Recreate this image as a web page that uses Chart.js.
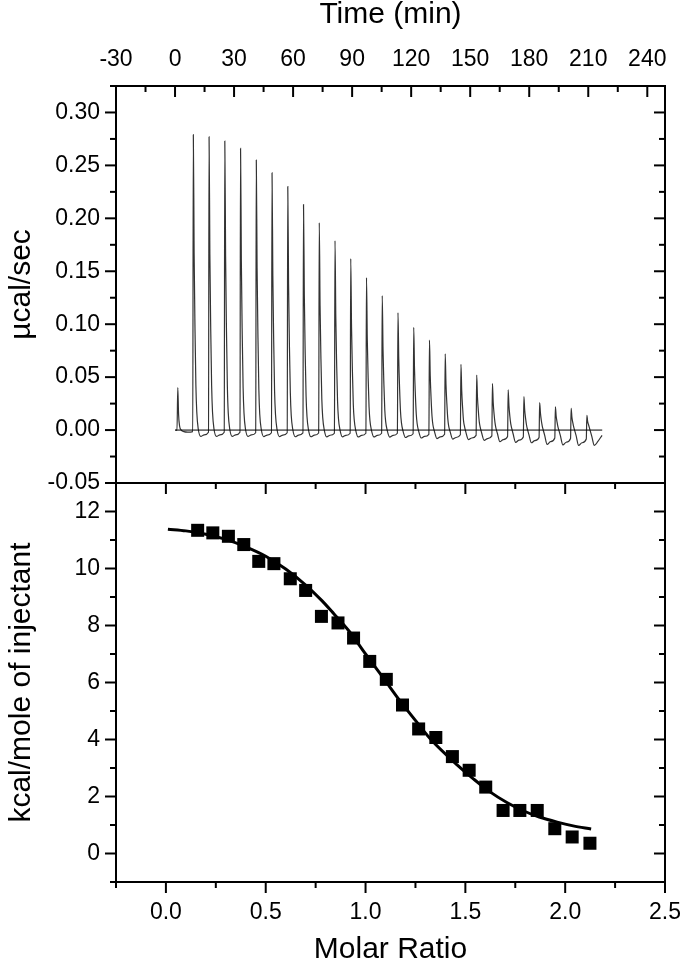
<!DOCTYPE html>
<html lang="en">
<head>
<meta charset="UTF-8">
<title>ITC titration</title>
<script src="https://cdn.jsdelivr.net/npm/chart.js"></script>
<style>
  body { margin: 0; background: #fff; }
  canvas { display: block; }
</style>
</head>
<body>
<canvas id="itc" width="680" height="966"></canvas>
<script>
// ---- top panel: raw heat flow (µcal/sec vs time) ----
const timeTicks = [-30, 0, 30, 60, 90, 120, 150, 180, 210, 240];
const powerTicks = [-0.05, 0.00, 0.05, 0.10, 0.15, 0.20, 0.25, 0.30];

// first (small) injection, time in min and heat flow
const leadTime  = [0.2, 1.0, 1.4, 1.8, 2.3, 3.2, 4.5, 6.5, 9.0];
const leadValue = [0, 0, 0.040, 0.015, 0.004, 0.0, -0.0015, -0.002, -0.0015];

// injection peaks: time of each peak and trace read at fixed offsets after it
const injectTimes = [9.3, 17.3, 25.3, 33.3, 41.3, 49.3, 57.3, 65.3, 73.3, 81.3, 89.3, 97.3, 105.3,
  113.3, 121.3, 129.3, 137.3, 145.3, 153.3, 161.3, 169.3, 177.3, 185.3, 193.3, 201.3, 209.3];
const peakOffsets = [0, 0.4, 0.85, 1.3, 1.75, 2.5, 3.8, 5.5, 7.7];
const peakTrace = [
  [0.279, 0.167, 0.095, 0.042, 0.017, 0.001, -0.006, -0.0045, -0.002],
  [0.277, 0.166, 0.094, 0.042, 0.017, 0.001, -0.006, -0.0045, -0.002],
  [0.273, 0.164, 0.093, 0.041, 0.016, 0.001, -0.006, -0.0045, -0.002],
  [0.266, 0.160, 0.090, 0.040, 0.016, 0.001, -0.006, -0.0045, -0.0025],
  [0.255, 0.153, 0.087, 0.038, 0.015, 0.001, -0.0062, -0.0047, -0.0025],
  [0.243, 0.146, 0.083, 0.036, 0.015, 0.001, -0.0062, -0.0047, -0.0025],
  [0.230, 0.138, 0.078, 0.035, 0.014, 0.001, -0.0063, -0.0048, -0.0027],
  [0.213, 0.128, 0.072, 0.032, 0.013, 0.0005, -0.0063, -0.0048, -0.0028],
  [0.196, 0.118, 0.067, 0.029, 0.012, 0.0005, -0.0064, -0.0049, -0.003],
  [0.179, 0.107, 0.061, 0.027, 0.011, 0.0005, -0.0064, -0.005, -0.003],
  [0.162, 0.097, 0.055, 0.024, 0.010, 0, -0.0065, -0.005, -0.003],
  [0.144, 0.086, 0.049, 0.022, 0.009, 0, -0.0065, -0.005, -0.003],
  [0.127, 0.076, 0.043, 0.019, 0.008, 0, -0.0066, -0.005, -0.003],
  [0.111, 0.067, 0.038, 0.017, 0.007, -0.0005, -0.007, -0.0055, -0.0035],
  [0.097, 0.058, 0.033, 0.015, 0.006, -0.001, -0.0075, -0.006, -0.004],
  [0.085, 0.051, 0.029, 0.013, 0.005, -0.001, -0.008, -0.0065, -0.004],
  [0.072, 0.043, 0.025, 0.011, 0.004, -0.0015, -0.0085, -0.007, -0.0045],
  [0.062, 0.037, 0.021, 0.009, 0.004, -0.002, -0.009, -0.0075, -0.005],
  [0.052, 0.031, 0.018, 0.008, 0.003, -0.0025, -0.0097, -0.008, -0.0055],
  [0.044, 0.026, 0.015, 0.007, 0.002, -0.003, -0.011, -0.009, -0.006],
  [0.038, 0.023, 0.013, 0.006, 0.002, -0.0035, -0.0116, -0.0095, -0.0065],
  [0.0315, 0.019, 0.011, 0.005, 0.001, -0.004, -0.012, -0.010, -0.007],
  [0.026, 0.016, 0.009, 0.004, 0.0005, -0.0045, -0.0135, -0.011, -0.0075],
  [0.022, 0.013, 0.0075, 0.003, 0, -0.005, -0.014, -0.0115, -0.008],
  [0.0205, 0.012, 0.007, 0.003, 0, -0.005, -0.0145, -0.012, -0.0085],
  [0.014, 0.008, 0.005, 0.002, -0.001, -0.006, -0.0145, -0.011, -0.005]
];
const baselineTime = [0, 217.1];

// ---- bottom panel: integrated heats ----
const molarTicks = [0, 0.5, 1.0, 1.5, 2.0, 2.5];
const heatTicks = [0, 2, 4, 6, 8, 10, 12];
const molarRatio = [0.159, 0.235, 0.313, 0.390, 0.465, 0.541, 0.623, 0.700, 0.779, 0.862, 0.940, 1.021, 1.104,
  1.185, 1.266, 1.352, 1.435, 1.519, 1.602, 1.689, 1.773, 1.860, 1.948, 2.035, 2.124];
const heatPerMole = [11.34, 11.25, 11.13, 10.84, 10.25, 10.17, 9.64, 9.23, 8.32, 8.09, 7.56, 6.74, 6.11,
  5.21, 4.37, 4.07, 3.40, 2.92, 2.33, 1.51, 1.51, 1.51, 0.87, 0.58, 0.36];
const fitRatio = [0.01, 0.1, 0.2, 0.3, 0.4, 0.5, 0.6, 0.7, 0.78, 0.84, 0.92, 1.0, 1.09, 1.17, 1.26, 1.33,
  1.46, 1.54, 1.62, 1.71, 1.79, 1.87, 1.96, 2.04, 2.13];
const fitHeat = [11.38, 11.32, 11.2, 11.02, 10.76, 10.43, 9.98, 9.42, 8.88, 8.42, 7.78, 7.0, 6.15, 5.38, 4.58, 3.98,
  3.1, 2.62, 2.18, 1.78, 1.50, 1.28, 1.1, 0.97, 0.86];

// build point lists
const tracePts = leadTime.map((t, i) => ({ x: t, y: leadValue[i] }));
injectTimes.forEach((t0, k) => {
  peakOffsets.forEach((dt, j) => tracePts.push({ x: t0 + dt, y: peakTrace[k][j] }));
});

const FONT = '"Liberation Sans", Arial, Helvetica, sans-serif';
const tickFont = { family: FONT, size: 23, lineHeight: 1 };
const titleFont = { family: FONT, size: 30, lineHeight: 1 };
const setTicks = arr => s => { s.ticks = arr.map(v => ({ value: v })); };
const fixBox = (w, h) => s => {
  if (w) s.width = w;
  if (h) s.height = h;
  s.paddingLeft = s.paddingRight = s.paddingTop = s.paddingBottom = 0;
};

// frame boxes and tick marks (in/out like the original plot)
function withMinor(vals) {
  const out = [];
  vals.forEach((v, i) => {
    out.push({ v, major: true });
    if (i < vals.length - 1) out.push({ v: (v + vals[i + 1]) / 2, major: false });
  });
  if (vals.length > 1) {
    const h = (vals[1] - vals[0]) / 2;
    out.push({ v: vals[0] - h, major: false });
    out.push({ v: vals[vals.length - 1] + h, major: false });
  }
  return out;
}

const frameTicks = {
  id: 'frameTicks',
  afterDraw(chart) {
    const { ctx, scales } = chart;
    const L = chart.chartArea.left, R = chart.chartArea.right;
    const MAJ = 11, MIN = 6;
    ctx.save();
    ctx.strokeStyle = '#000';
    ctx.lineWidth = 2;
    ctx.lineCap = 'butt';
    const line = (x1, y1, x2, y2) => { ctx.beginPath(); ctx.moveTo(x1, y1); ctx.lineTo(x2, y2); ctx.stroke(); };

    [scales.yTop, scales.yBot].forEach(y => {
      ctx.strokeRect(L, y.top, R - L, y.bottom - y.top);
    });

    const vTicks = (yScale, vals) => {
      withMinor(vals).forEach(t => {
        if (t.v < yScale.min - 1e-9 || t.v > yScale.max + 1e-9) return;
        const py = yScale.getPixelForValue(t.v);
        const len = t.major ? MAJ : MIN;
        line(L - len, py, L, py);
        line(R - len, py, R, py);
      });
    };
    const hTicks = (xScale, vals, y, dir) => {
      withMinor(vals).forEach(t => {
        if (t.v < xScale.min - 1e-9 || t.v > xScale.max + 1e-9) return;
        const px = xScale.getPixelForValue(t.v);
        const len = t.major ? MAJ : MIN;
        line(px, y, px, y + dir * len);
      });
    };

    vTicks(scales.yTop, powerTicks);
    vTicks(scales.yBot, heatTicks);
    hTicks(scales.xTime, timeTicks, scales.yTop.top, 1);
    hTicks(scales.xMR, molarTicks, scales.yBot.top, 1);
    hTicks(scales.xMR, molarTicks, scales.yBot.bottom, 1);
    ctx.restore();
  }
};

new Chart(document.getElementById('itc').getContext('2d'), {
  type: 'line',
  data: {
    datasets: [
      {
        label: 'baseline', xAxisID: 'xTime', yAxisID: 'yTop',
        data: baselineTime.map(t => ({ x: t, y: 0 })),
        borderColor: '#000', borderWidth: 1, pointRadius: 0
      },
      {
        label: 'heat flow', xAxisID: 'xTime', yAxisID: 'yTop',
        data: tracePts,
        borderColor: '#333', borderWidth: 1.2, pointRadius: 0,
        cubicInterpolationMode: 'monotone'
      },
      {
        label: 'fit', xAxisID: 'xMR', yAxisID: 'yBot',
        data: fitRatio.map((x, i) => ({ x, y: fitHeat[i] })),
        borderColor: '#000', borderWidth: 3, pointRadius: 0,
        cubicInterpolationMode: 'monotone'
      },
      {
        type: 'scatter', label: 'data', xAxisID: 'xMR', yAxisID: 'yBot',
        data: molarRatio.map((x, i) => ({ x, y: heatPerMole[i] })),
        pointStyle: 'rect', pointRadius: 9.2, pointHoverRadius: 9.2,
        backgroundColor: '#000', borderColor: '#000', borderWidth: 0, showLine: false
      }
    ]
  },
  options: {
    responsive: false,
    animation: false,
    layout: { padding: { left: 0, right: 15, top: 0, bottom: 0 } },
    plugins: { legend: { display: false }, tooltip: { enabled: false } },
    scales: {
      xTime: {
        type: 'linear', position: 'top', min: -30, max: 249,
        afterBuildTicks: setTicks(timeTicks),
        afterFit: fixBox(0, 86),
        grid: { display: false, drawTicks: false }, border: { display: false },
        ticks: { font: tickFont, color: '#000', padding: 14.5, maxRotation: 0, autoSkip: false,
                 callback: v => String(v) },
        title: { display: true, text: 'Time (min)', font: titleFont, color: '#000', padding: { top: 0, bottom: 0 } }
      },
      xMR: {
        type: 'linear', position: 'bottom', min: -0.25, max: 2.5,
        afterBuildTicks: setTicks(molarTicks),
        afterFit: fixBox(0, 84),
        grid: { display: false, drawTicks: false }, border: { display: false },
        ticks: { font: tickFont, color: '#000', padding: 19, maxRotation: 0, autoSkip: false,
                 callback: v => v.toFixed(1) },
        title: { display: true, text: 'Molar Ratio', font: titleFont, color: '#000', padding: { top: 0, bottom: 1 } }
      },
      yTop: {
        type: 'linear', position: 'left', stack: 'panels', stackWeight: 397, weight: 1,
        min: -0.05, max: 0.325,
        afterBuildTicks: setTicks(powerTicks),
        afterFit: fixBox(116, 0),
        grid: { display: false, drawTicks: false }, border: { display: false },
        ticks: { font: tickFont, color: '#000', padding: 16, autoSkip: false, callback: v => v.toFixed(2) },
        title: { display: true, text: 'µcal/sec', font: titleFont, color: '#000', padding: { top: 7, bottom: 0 } }
      },
      yBot: {
        type: 'linear', position: 'left', stack: 'panels', stackWeight: 399, weight: 0,
        min: -1, max: 13,
        afterBuildTicks: setTicks(heatTicks),
        afterFit: fixBox(116, 0),
        grid: { display: false, drawTicks: false }, border: { display: false },
        ticks: { font: tickFont, color: '#000', padding: 16, autoSkip: false, callback: v => String(v) },
        title: { display: true, text: 'kcal/mole of injectant', font: titleFont, color: '#000', padding: { top: 7, bottom: 0 } }
      }
    }
  },
  plugins: [frameTicks]
});
</script>
</body>
</html>
